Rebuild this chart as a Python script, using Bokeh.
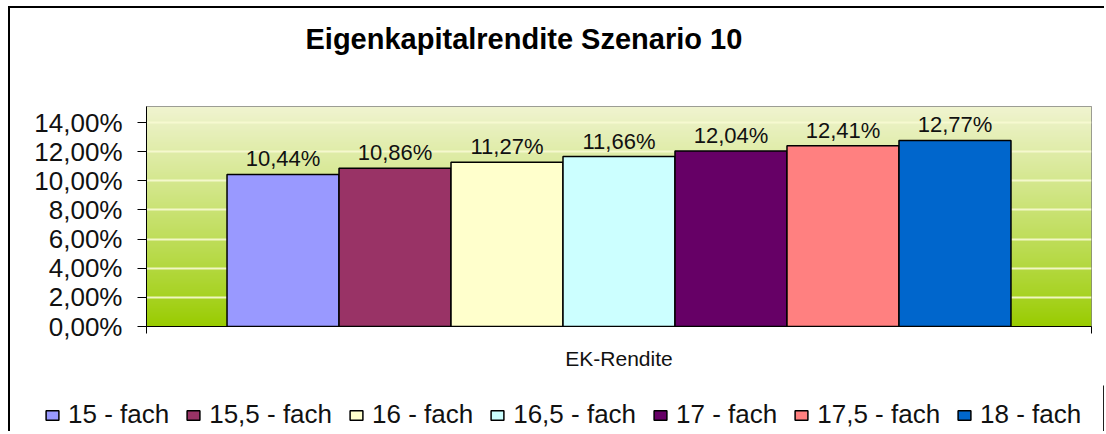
import numpy as np
from bokeh.plotting import figure
from bokeh.layouts import column
from bokeh.models import ColumnDataSource, Range1d, FixedTicker, Legend, LegendItem, Label
from bokeh.core.properties import value
from bokeh.embed import file_html
from bokeh.resources import INLINE

# ---- data ----
title_text = "Eigenkapitalrendite Szenario 10"
category = "EK-Rendite"
series = ["15 - fach", "15,5 - fach", "16 - fach", "16,5 - fach",
          "17 - fach", "17,5 - fach", "18 - fach"]
values = [10.44, 10.86, 11.27, 11.66, 12.04, 12.41, 12.77]
value_labels = ["10,44%", "10,86%", "11,27%", "11,66%", "12,04%", "12,41%", "12,77%"]
colors = ["#9999FF", "#993366", "#FFFFCC", "#CCFFFF", "#660066", "#FF8080", "#0066CC"]
y_ticks = [0, 2, 4, 6, 8, 10, 12, 14]
y_tick_labels = ["0,00%", "2,00%", "4,00%", "6,00%", "8,00%", "10,00%", "12,00%", "14,00%"]

FONT = "Liberation Sans"
W = 1094
xs = list(range(len(series)))
pad = 0.719
x0, x1 = -0.5 - pad, len(series) - 0.5 + pad
y_max = 15.1

src = ColumnDataSource(dict(x=xs, top=values, color=colors, series=series, lab=value_labels))


def blank(fig):
    fig.xgrid.visible = False
    fig.ygrid.visible = False
    fig.outline_line_color = None
    fig.border_fill_color = "white"
    fig.background_fill_color = "white"


# ---- title strip ----
TH = 90
pt = figure(width=W, height=TH, x_range=Range1d(0, W), y_range=Range1d(0, TH),
            x_axis_type=None, y_axis_type=None, output_backend="svg",
            toolbar_location=None, min_border=0)
blank(pt)
pt.frame_align = False
pt.add_layout(Label(x=295, y=TH - 30, text=title_text, text_font=FONT,
                    text_font_size="29px", text_font_style="bold",
                    text_color="black", text_baseline="middle", text_align="left"))

# ---- main chart ----
MH = 287
p = figure(width=W, height=MH,
           x_range=Range1d(x0, x1), y_range=Range1d(0, y_max),
           output_backend="svg", toolbar_location=None,
           min_border_left=136, min_border_right=W - 1081,
           min_border_top=8, min_border_bottom=59)
p.frame_align = False
p.border_fill_color = "white"
p.background_fill_color = "white"
p.outline_line_color = "#808080"
p.outline_line_width = 1

# gradient background of plot area
n = 200
t = np.linspace(0, 1, n)[:, None]  # 0 bottom -> 1 top
bottom_c = np.array([153, 204, 0])
top_c = np.array([240, 244, 208])
rgb = (bottom_c + (top_c - bottom_c) * t ** 0.9).astype(np.uint32)
img = np.empty((n, 1), dtype=np.uint32)
view = img.view(dtype=np.uint8).reshape((n, 1, 4))
view[:, 0, 0] = rgb[:, 0]
view[:, 0, 1] = rgb[:, 1]
view[:, 0, 2] = rgb[:, 2]
view[:, 0, 3] = 255
p.image_rgba(image=[img], x=x0, y=0, dw=x1 - x0, dh=y_max, level="image")

p.xgrid.visible = False
p.ygrid.ticker = FixedTicker(ticks=y_ticks)
p.ygrid.grid_line_color = "#F7FAD2"
p.ygrid.grid_line_width = 2
p.ygrid.grid_line_alpha = 0.9

r = p.vbar(x="x", top="top", width=1.0, bottom=0, source=src,
           fill_color="color", line_color="black", line_width=1.5)

p.text(x="x", y="top", text="lab", source=src, text_align="center",
       text_baseline="bottom", y_offset=-3,
       text_font=value(FONT), text_font_size="22px", text_color="#111111")

p.yaxis.ticker = FixedTicker(ticks=y_ticks)
p.yaxis.major_label_overrides = {t_: l for t_, l in zip(y_ticks, y_tick_labels)}
p.yaxis.major_label_text_font = FONT
p.yaxis.major_label_text_font_size = "26px"
p.yaxis.major_label_text_color = "#111111"
p.yaxis.major_tick_out = 9
p.yaxis.major_tick_in = 0
p.yaxis.minor_tick_line_color = None
p.yaxis.major_label_standoff = 15
p.yaxis.axis_line_color = "black"
p.yaxis.major_tick_line_color = "black"

p.xaxis.ticker = FixedTicker(ticks=[x0, x1])
p.xaxis.major_label_text_font_size = "1px"
p.xaxis.major_label_text_color = None
p.xaxis.major_tick_out = 7
p.xaxis.major_tick_in = 0
p.xaxis.minor_tick_line_color = None
p.xaxis.axis_line_color = "black"
p.xaxis.major_tick_line_color = "black"
p.xaxis.axis_label = category
p.xaxis.axis_label_text_font = FONT
p.xaxis.axis_label_text_font_style = "normal"
p.xaxis.axis_label_text_font_size = "21px"
p.xaxis.axis_label_text_color = "#111111"
p.xaxis.axis_label_standoff = 13

# ---- legend strip ----
LH = 46
pl = figure(width=W, height=LH, x_range=Range1d(-100, -99), y_range=Range1d(0, 1),
            x_axis_type=None, y_axis_type=None, output_backend="svg",
            toolbar_location=None, min_border=0)
blank(pl)
pl.frame_align = False
rl = pl.vbar(x="x", top="top", width=1.0, bottom=0, source=src,
             fill_color="color", line_color="black", line_width=1.5)
items = [LegendItem(label=s, renderers=[rl], index=i) for i, s in enumerate(series)]
legend = Legend(items=items, orientation="horizontal", location=(34, 1),
                label_text_font=FONT, label_text_font_size="26px",
                label_text_color="#111111",
                glyph_width=16, glyph_height=12, label_standoff=8, spacing=16,
                padding=0, margin=0, label_height=26,
                border_line_color=None, background_fill_alpha=0)
pl.add_layout(legend)

layout = column(pt, p, pl, spacing=0)
layout.styles = {"border-top": "2px solid black", "border-left": "2px solid black",
                 "margin-left": "8px", "margin-top": "6px"}

open("out.html", "w").write(file_html(layout, INLINE))
